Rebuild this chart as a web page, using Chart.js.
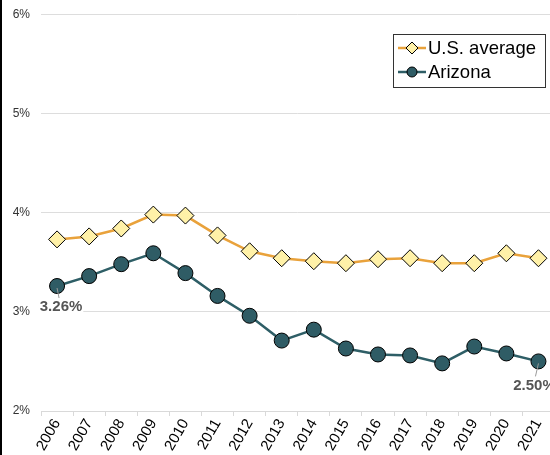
<!DOCTYPE html>
<html>
<head>
<meta charset="utf-8">
<script src="https://cdn.jsdelivr.net/npm/chart.js@4.4.1/dist/chart.umd.min.js"></script>
<style>
    html, body { margin: 0; padding: 0; overflow: hidden; background: #ffffff; }
    #wrap { position: relative; width: 564px; height: 455px; border-left: 2px solid #000; box-sizing: border-box; overflow: hidden; }
    #rateChart { position: absolute; left: 0; top: -4px; }
</style>
</head>
<body>
<div id="wrap"><canvas id="rateChart" width="562" height="459"></canvas></div>
<script>

// ======================================
// Data
// ======================================

const years = ["2006", "2007", "2008", "2009", "2010", "2011", "2012", "2013",
    "2014", "2015", "2016", "2017", "2018", "2019", "2020", "2021"];

const usAverage = [3.73, 3.76, 3.84, 3.98, 3.97, 3.77, 3.61, 3.54,
    3.51, 3.49, 3.53, 3.54, 3.49, 3.49, 3.59, 3.54];

const arizona = [3.26, 3.36, 3.48, 3.59, 3.39, 3.16, 2.96, 2.71,
    2.82, 2.63, 2.57, 2.56, 2.48, 2.65, 2.58, 2.50];

const yTicks = [2, 3, 4, 5, 6];

// which Arizona points get a value label: index -> label offset
const callouts = [
    { index: 0, dx: 4, dy: 21, lead: 2 },
    { index: 15, dx: -4, dy: 24, lead: -3 }
];

// ======================================
// Plugins
// ======================================

const calloutPlugin = {
    id: "callouts",
    afterDatasetsDraw(chart) {
        const ctx = chart.ctx;
        const meta = chart.getDatasetMeta(1);
        ctx.save();
        callouts.forEach(c => {
            const pt = meta.data[c.index];
            const lx = pt.x + c.dx;
            const ly = pt.y + c.dy;
            const text = arizona[c.index].toFixed(2) + "%";
            ctx.font = "bold 15px 'Liberation Sans', Arial, sans-serif";
            const tw = ctx.measureText(text).width;
            ctx.fillStyle = "#fff";
            ctx.fillRect(lx - tw / 2 - 1, ly - 7, tw + 2, 14);
            ctx.strokeStyle = "#999";
            ctx.lineWidth = 1;
            ctx.beginPath();
            ctx.moveTo(pt.x, pt.y + 2);
            ctx.lineTo(pt.x + c.lead, ly - 9);
            ctx.stroke();
            ctx.fillStyle = "#555";
            ctx.textAlign = "center";
            ctx.textBaseline = "middle";
            ctx.fillText(text, lx, ly);
        });
        ctx.restore();
    }
};

const legendPlugin = {
    id: "boxLegend",
    afterDraw(chart) {
        const ctx = chart.ctx;
        const x = 391, y = 38, w = 152, h = 53;
        ctx.save();
        ctx.fillStyle = "#fff";
        ctx.fillRect(x, y, w, h);
        ctx.strokeStyle = "#333";
        ctx.lineWidth = 1;
        ctx.strokeRect(x + 0.5, y + 0.5, w, h);

        chart.data.datasets.forEach((ds, i) => {
            const cy = y + 14 + i * 24;
            ctx.strokeStyle = ds.borderColor;
            ctx.lineWidth = 2.5;
            ctx.beginPath();
            ctx.moveTo(x + 5, cy);
            ctx.lineTo(x + 33, cy);
            ctx.stroke();
            ctx.fillStyle = ds.pointBackgroundColor;
            ctx.strokeStyle = "#000";
            ctx.lineWidth = 1;
            Chart.helpers.drawPoint(ctx, {
                pointStyle: ds.pointStyle,
                radius: ds.pointStyle === "rectRot" ? 6 : 5,
                borderWidth: 1
            }, x + 19, cy);
            ctx.fillStyle = "#000";
            ctx.font = "18.5px 'Liberation Sans', Arial, sans-serif";
            ctx.textAlign = "left";
            ctx.textBaseline = "middle";
            ctx.fillText(ds.label, x + 35, cy + 1);
        });
        ctx.restore();
    }
};

// ======================================
// Chart
// ======================================

const ctx = document.getElementById("rateChart").getContext("2d");

new Chart(ctx, {

    type: "line",

    data: {
        labels: years,
        datasets: [{
            label: "U.S. average",
            data: usAverage,
            borderColor: "#E9A23B",
            borderWidth: 2.5,
            pointStyle: "rectRot",
            pointRadius: 8.5,
            pointBackgroundColor: "#FFF1A8",
            pointBorderColor: "#000",
            pointBorderWidth: 1,
            tension: 0
        }, {
            label: "Arizona",
            data: arizona,
            borderColor: "#2E5E66",
            borderWidth: 2.5,
            pointStyle: "circle",
            pointRadius: 7.5,
            pointBackgroundColor: "#2F5C65",
            pointBorderColor: "#000",
            pointBorderWidth: 1,
            tension: 0
        }]
    },

    options: {
        responsive: false,
        animation: false,
        layout: { padding: { top: 8, left: 0, right: 0, bottom: 0 } },
        plugins: {
            legend: { display: false },
            tooltip: { enabled: false }
        },
        scales: {
            x: {
                offset: true,
                grid: {
                    offset: true,
                    drawOnChartArea: false,
                    drawTicks: true,
                    tickLength: 5,
                    color: "#d9d9d9"
                },
                border: { color: "#d9d9d9" },
                ticks: {
                    color: "#000",
                    font: { family: "'Liberation Sans', Arial, sans-serif", size: 15 },
                    minRotation: 60,
                    maxRotation: 60,
                    autoSkip: false,
                    padding: 0
                },
                afterFit(scale) { scale.height = 44; }
            },
            y: {
                min: 2,
                max: 6,
                afterBuildTicks(scale) {
                    scale.ticks = yTicks.map(v => ({ value: v }));
                },
                grid: { color: "#dddddd", drawTicks: false },
                border: { display: false },
                ticks: {
                    color: "#333",
                    padding: 11,
                    font: { family: "'Liberation Sans', Arial, sans-serif", size: 12 },
                    callback: v => v + "%"
                },
                afterFit(scale) { scale.width = 39; }
            }
        }
    },

    plugins: [calloutPlugin, legendPlugin]

});

</script>
</body>
</html>
